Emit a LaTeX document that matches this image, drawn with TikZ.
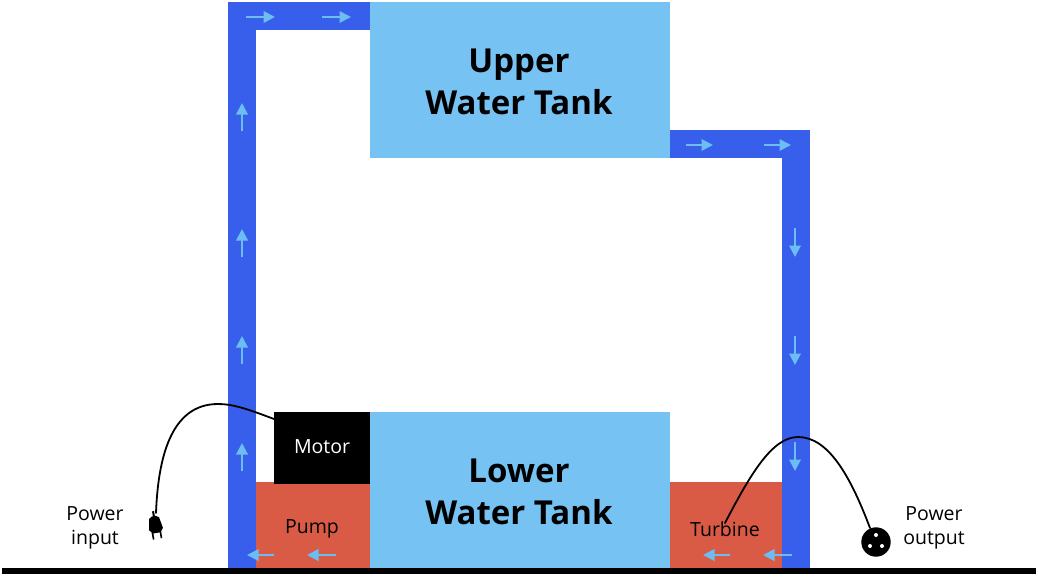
\documentclass[tikz,border=0pt]{standalone}
\usepackage{fontspec}
\setmainfont{Open Sans}
\usetikzlibrary{arrows.meta,calc}
\definecolor{tankc}{HTML}{75C2F3}
\definecolor{pipec}{HTML}{375FEB}
\definecolor{machc}{HTML}{D95B46}
\definecolor{flowc}{HTML}{6CBDF3}
\tikzset{
  x=1pt,y=-1pt,
  flow/.style={draw=flowc,line width=2pt,-{Triangle[length=11.5pt,width=11.5pt]}},
  cable/.style={draw=black,line width=1.8pt,line cap=round},
  tanklabel/.style={font=\fontsize{33}{42}\selectfont\bfseries,align=center,text=black},
  smalllabel/.style={font=\fontsize{19.5}{24}\selectfont,align=center,text=black},
}
\newcommand{\flowarrow}[4]{\coordinate (fa) at (#1,#2); \coordinate (fb) at (#3,#4); \draw[flow] (fa) -- (fb);}
\begin{document}
\begin{tikzpicture}
\useasboundingbox (0,0) rectangle (1038,576);
% pipes
\fill[pipec] (228,2) rectangle (256,568);
\fill[pipec] (228,2) rectangle (370,30);
\fill[pipec] (670,130) rectangle (810,158);
\fill[pipec] (782,130) rectangle (810,568);
% tanks
\fill[tankc] (370,2) rectangle (670,158);
\fill[tankc] (370,412) rectangle (670,568);
% machines
\fill[machc] (256,482) rectangle (370,568);
\fill[machc] (670,482) rectangle (782,568);
\fill[black] (274,412) rectangle (370,484);
% ground
\fill[black] (2,568) rectangle (1036,574);
% labels
\node[tanklabel] (upper) at (519,82) {Upper\\Water Tank};
\node[tanklabel] (lower) at (519,492) {Lower\\Water Tank};
\node[smalllabel,text=white] (motor) at (322,447) {Motor};
\node[smalllabel] (pump) at (312,529) {Pump};
\node[smalllabel] (turbine) at (725,529) {Turbine};
\node[smalllabel] (pin) at (95,528) {Power\\input};
\node[smalllabel] (pout) at (934,528) {Power\\output};
% flow arrows
\flowarrow{246}{17}{275}{17}
\flowarrow{322}{17}{351}{17}
\flowarrow{242}{131}{242}{103}
\flowarrow{242}{257}{242}{229}
\flowarrow{242}{364}{242}{336}
\flowarrow{242}{471}{242}{443}
\flowarrow{274}{555}{247}{555}
\flowarrow{336}{555}{307}{555}
\flowarrow{730}{555}{703}{555}
\flowarrow{792}{555}{763}{555}
\flowarrow{795}{442}{795}{471}
\flowarrow{795}{336}{795}{365}
\flowarrow{795}{228}{795}{257}
\flowarrow{686}{145}{713}{145}
\flowarrow{764}{145}{791}{145}
% cables
\coordinate (mstart) at (274,419);
\coordinate (plugtop) at (156,513);
\coordinate (tstart) at (725,523);
\coordinate (sockettop) at (870,528);
\draw[cable] (mstart) .. controls (245,408) and (232,404) .. (218,404)
  .. controls (170,404) and (158,460) .. (plugtop);
\draw[cable] (tstart) .. controls (750,475) and (772,437) .. (798,437)
  .. controls (828,437) and (850,475) .. (sockettop);
% plug
\begin{scope}[shift={(155.5,526)},rotate=10]
  \fill[black] (-5,-8) -- (-2,-10) -- (2,-10) -- (5,-8) -- (7,3) -- (4,7) -- (-4,7) -- (-7,3) -- cycle;
  \fill[black] (-0.9,-15) rectangle (1.1,-8);
  \fill[black] (-5,6) rectangle (-3.4,13);
  \fill[black] (3,6) rectangle (4.6,13);
\end{scope}
% socket
\fill[black] (876,542) circle[radius=14.7];
\fill[white] (876,535) circle[radius=2];
\fill[white] (870,546) circle[radius=2];
\fill[white] (882,546) circle[radius=2];
\end{tikzpicture}
\end{document}
